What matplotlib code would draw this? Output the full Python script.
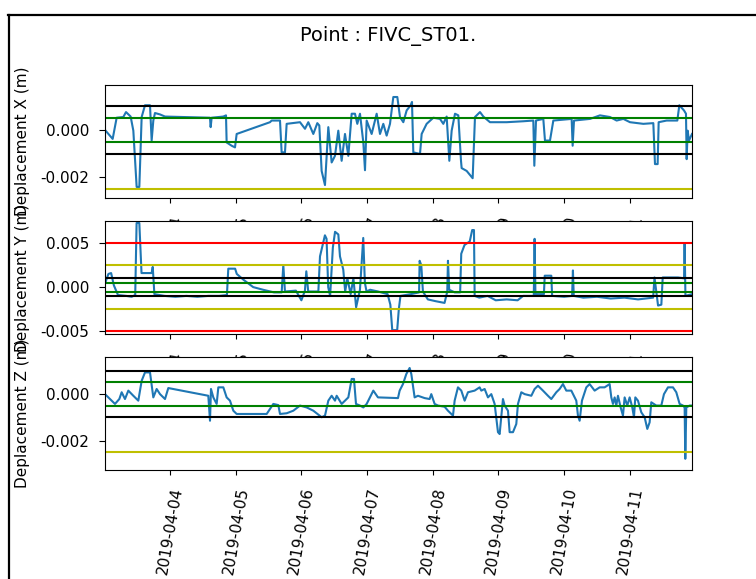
import numpy as np
import pandas as pd
import matplotlib
matplotlib.use("Agg")
import matplotlib.pyplot as plt
import matplotlib.dates as mdates
from matplotlib.lines import Line2D

# time in hours since 2019-04-03 00:00, displacements read in mm
start = pd.Timestamp("2019-04-03 00:00")

hx = [0.26, 3.06, 4.52, 6.95, 7.93, 9.63, 10.61, 11.82, 12.80, 13.65, 14.87, 16.70, 17.30, 17.91,
      18.52, 20.35, 22.17, 38.61, 38.86, 39.22, 43.48, 44.46, 44.70, 46.53, 47.75, 48.36, 60.53,
      61.14, 64.19, 64.79, 66.01, 66.62, 71.49, 73.32, 74.53, 76.36, 77.82, 78.55, 79.40, 80.62,
      81.84, 83.06, 84.27, 85.49, 86.71, 87.93, 89.15, 90.37, 91.58, 92.43, 93.41, 94.63, 95.24,
      95.85, 97.67, 99.50, 100.72, 101.93, 103.15, 104.37, 105.59, 107.05, 108.02, 109.24, 110.46,
      111.92, 112.41, 112.89, 115.33, 115.94, 117.76, 120.20, 122.64, 123.85, 125.07, 126.05,
      126.90, 128.12, 129.33, 130.31, 130.55, 132.38, 134.57, 135.42, 137.25, 138.47, 140.90,
      146.99, 153.08, 156.73, 157.10, 157.71, 160.38, 160.99, 162.82, 164.04, 170.73, 171.10,
      171.59, 177.43, 181.08, 184.74, 187.17, 189.61, 192.04, 196.92, 200.57, 201.18, 202.15,
      202.52, 205.44, 209.34, 210.07, 211.77, 212.50, 212.75, 213.11, 213.60, 214.70]
dx = [0.0, -0.38, 0.52, 0.55, 0.76, 0.57, -0.03, -2.42, -2.42, 0.55, 1.05, 1.05, -0.45, 0.40,
      0.72, 0.66, 0.57, 0.52, 0.12, 0.52, 0.57, 0.62, -0.53, -0.67, -0.74, -0.17, 0.33,
      0.40, 0.40, -0.95, -0.95, 0.26, 0.33, 0.05, 0.33, -0.17, 0.29, 0.19, -1.74, -2.34,
      0.12, -1.38, -1.10, -0.03, -1.31, -0.17, -1.10, 0.69, 0.69, 0.26, 0.69, -0.53, -1.71,
      0.40, -0.17, 0.69, -0.17, 0.26, -0.24, 0.26, 1.40, 1.40, 0.55, 0.33, 0.83,
      1.05, 1.19, -0.95, -1.02, -0.17, 0.26, 0.52, 0.47, 0.26, 0.57, -1.31,
      -0.03, 0.69, 0.62, -1.31, -1.62, -1.74, -2.05, 0.55, 0.76, 0.57, 0.33,
      0.33, 0.37, 0.40, -1.52, 0.40, 0.47, -0.45, -0.45, 0.40, 0.47, -0.67,
      0.40, 0.47, 0.62, 0.55, 0.40, 0.47, 0.33, 0.26, 0.29, -1.45, -1.45,
      0.33, 0.40, 0.40, 1.05, 0.83, 0.69, -1.24, -0.03, -0.45, -0.17]

hy = [0.26, 1.5, 2.5, 3.5, 5.0, 8.0, 10.0, 11.3, 11.8, 12.8, 13.6, 17.3, 17.7, 18.3, 22, 26, 30,
      34, 38, 42, 44.8, 45.3, 47.8, 48.4, 51, 54.4, 58, 62, 64.8, 65.4, 66.0, 70, 72, 73.3, 73.8,
      74.5, 78.2, 78.8, 80.6, 81.2, 81.8, 82.5, 83.5, 84.3, 85.5, 86.1, 87.3, 88.0, 88.8, 90.0,
      91.0, 92.0, 93.4, 94.6, 95.2, 95.8, 97.1, 100, 103.5, 104.5, 105.2, 107.0, 107.6, 108.2,
      112, 115.0, 115.2, 115.8, 116.4, 118.2, 121, 124.3, 125.3, 125.55, 126.0, 128, 130.0,
      130.4, 131.6, 133.5, 134.4, 135.05, 135.3, 137, 140, 143, 147, 151, 153, 156.9, 157.2,
      157.5, 160.6, 160.9, 163.3, 163.6, 168, 170.9, 171.2, 171.5, 175, 180, 185, 190, 195,
      200.5, 201.0, 202.3, 203.5, 204, 209.6, 211.8, 212.0, 212.3, 214.7]
dy = [0.4, 1.5, 1.6, 0.2, -0.9, -1.0, -1.1, -0.9, 7.3, 7.3, 1.6, 1.6, 2.3, -0.8, -1.0, -1.1, -1.0,
      -1.1, -1.0, -1.0, -0.9, 2.1, 2.1, 1.5, 0.8, 0.0, -0.3, -0.6, -0.6, 2.5, -0.5, -0.4, -1.5, -0.4, 1.8,
      -0.5, -0.5, 3.5, 5.9, 5.5, 0.0, -1.0, 4.5, 6.3, 6.0, 3.5, 2.0, -0.5, 1.0, -0.8,
      1.0, -2.3, -0.3, 5.6, 0.5, -0.5, -0.3, -0.5, -0.8, -2.0, -4.9, -4.9, -2.5, -1.0,
      -0.8, -0.6, 3.0, 2.5, -0.5, -1.4, -1.6, -1.8, -0.5, 3.0, -0.3, -0.6, -0.6,
      3.8, 4.8, 5.2, 6.5, 6.5, -1.0, -1.2, -1.0, -1.5, -1.4, -1.5, -1.0, -1.0, 5.5,
      -0.8, -0.8, 1.3, 1.3, -1.0, -1.1, -1.0, 1.9, -1.0, -1.2, -1.1, -1.3, -1.2, -1.4,
      -1.2, 1.1, -2.1, -2.0, 1.1, 1.1, 1.0, 5.0, -1.0, -0.8]

hz = [0.26, 2.08, 3.91, 5.49, 6.35, 7.56, 8.78, 10.61, 12.43, 13.65, 14.87, 16.70, 17.91, 19.13,
      20.35, 22.18, 23.39, 38.00, 38.62, 38.98, 39.83, 41.05, 41.66, 43.49, 44.70, 45.92, 47.14,
      48.36, 59.32, 61.75, 63.58, 64.19, 66.62, 69.06, 71.49, 73.93, 76.36, 79.41, 80.63, 81.84,
      83.06, 84.28, 84.89, 86.72, 89.15, 90.37, 91.22, 91.95, 93.41, 94.63, 95.85, 98.28, 99.98,
      107.29, 107.90, 109.11, 110.33, 111.55, 112.16, 113.37, 114.59, 117.03, 118.85, 119.46,
      120.68, 121.90, 124.33, 125.55, 127.38, 127.99, 129.20, 130.42, 131.64, 132.86, 135.29,
      137.12, 137.73, 138.95, 140.16, 141.38, 142.60, 143.82, 144.43, 145.64, 146.25, 147.47,
      148.08, 149.30, 150.51, 151.12, 152.34, 153.56, 156.00, 157.21, 158.43, 160.26, 162.08,
      163.30, 165.13, 166.34, 167.56, 168.78, 170.61, 172.43, 173.04, 173.65, 174.50, 176.09,
      177.30, 179.13, 180.96, 182.78, 184.61, 185.22, 185.83, 186.44, 187.05, 187.65, 188.63,
      189.48, 190.09, 191.06, 191.92, 192.89, 193.50, 193.99, 194.96, 196.18, 197.40, 198.37,
      199.22, 199.83, 201.66, 203.48, 204.46, 205.92, 207.75, 208.96, 210.18, 211.40, 212.01,
      212.25, 212.62, 213.84, 214.70]
dz = [-0.01, -0.22, -0.43, -0.22, 0.07, -0.22, 0.14, -0.08, -0.29, 0.56, 0.92, 0.92, -0.15, 0.21,
      -0.01, -0.22, 0.25, -0.08, -1.15, 0.21, -0.15, -0.43, 0.28, 0.28, -0.15, -0.29, -0.72,
      -0.86, -0.86, -0.43, -0.48, -0.86, -0.83, -0.72, -0.50, -0.58, -0.72, -1.00, -0.93, -0.29,
      -0.08, -0.29, -0.08, -0.43, -0.15, 0.64, 0.64, -0.43, -0.50, -0.58, -0.43, 0.14, -0.15,
      -0.18, 0.14, 0.42, 0.85, 1.11, 0.85, -0.15, -0.08, -0.18, -0.22, -0.01,
      -0.43, -0.50, -0.55, -0.72, -0.93, -0.29, 0.28, 0.14, -0.29, 0.07, 0.14,
      0.28, 0.14, 0.21, -0.15, -0.01, -0.43, -1.64, -1.72, -0.22, -0.50, -0.72,
      -1.64, -1.64, -1.29, -0.43, 0.07, -0.01, -0.08, 0.21, 0.35, 0.14, -0.08,
      -0.22, 0.07, 0.21, 0.42, 0.14, 0.14, -0.29, -0.93, -1.15, -0.29, 0.28,
      0.42, 0.14, 0.28, 0.28, 0.42, -0.15, -0.43, -0.15, -0.50, -0.08, -0.58,
      -0.93, -0.15, -0.50, -0.15, -0.58, -1.00, -0.15, -0.29, -0.79, -1.00, -1.50,
      -1.22, -0.36, -0.50, -0.50, -0.01, 0.28, 0.28, 0.07, -0.43, -0.50, -0.58,
      -2.78, -0.58, -0.50, -0.50]

labels = ["Deplacement X (m)", "Deplacement Y (m)", "Deplacement Z (m)"]
# thresholds (m) and their colours
seuils = [(0.001, "k"), (-0.001, "k"), (0.0005, "g"), (-0.0005, "g"),
          (0.0025, "y"), (-0.0025, "y"), (0.005, "r"), (-0.005, "r")]
ylims = [(-0.00289, 0.00191), (-0.00534, 0.00753), (-0.00326, 0.00158)]
yticks = [[-0.002, 0.0], [-0.005, 0.0, 0.005], [-0.002, 0.0]]

fs = 11
fig = plt.figure(figsize=(7.56, 5.79), dpi=100)
fig.text(388 / 756, 1 - 35.5 / 579, "Point : FIVC_ST01.", ha="center", va="center", fontsize=14)

# frame lines of the screenshot
fig.add_artist(Line2D([8 / 756, 1], [1 - 15 / 579] * 2, transform=fig.transFigure, color="k", lw=1.6))
fig.add_artist(Line2D([9.3 / 756] * 2, [0, 1 - 15 / 579], transform=fig.transFigure, color="k", lw=1.6))

tops = [85, 221, 357]
series = [(hx, dx), (hy, dy), (hz, dz)]
t0 = start + pd.Timedelta(hours=0.26)
t1 = start + pd.Timedelta(hours=214.7)
for i in range(3):
    ax = fig.add_axes([105 / 756, 1 - (tops[i] + 113) / 579, 587 / 756, 113 / 579])
    h, d = series[i]
    t = start + pd.to_timedelta(np.array(h), unit="h")
    ax.plot(t, np.array(d) / 1000.0, color="#1f77b4", lw=1.5)
    for val, c in seuils:
        ax.axhline(val, color=c, lw=1.5)
    ax.set_xlim(t0, t1)
    ax.set_ylim(*ylims[i])
    ax.set_yticks(yticks[i])
    ax.yaxis.set_major_formatter(matplotlib.ticker.FormatStrFormatter("%.3f"))
    ax.xaxis.set_major_locator(mdates.DayLocator())
    ax.xaxis.set_major_formatter(mdates.DateFormatter("%Y-%m-%d"))
    ax.tick_params(labelsize=fs)
    ax.tick_params(axis="y", length=4, pad=7.5)
    ax.tick_params(axis="x", length=3.8, pad=7.5)
    plt.setp(ax.get_xticklabels(), rotation=80)
    ax.set_ylabel(labels[i], fontsize=fs, labelpad=7)

fig.savefig("out.png", dpi=100)
